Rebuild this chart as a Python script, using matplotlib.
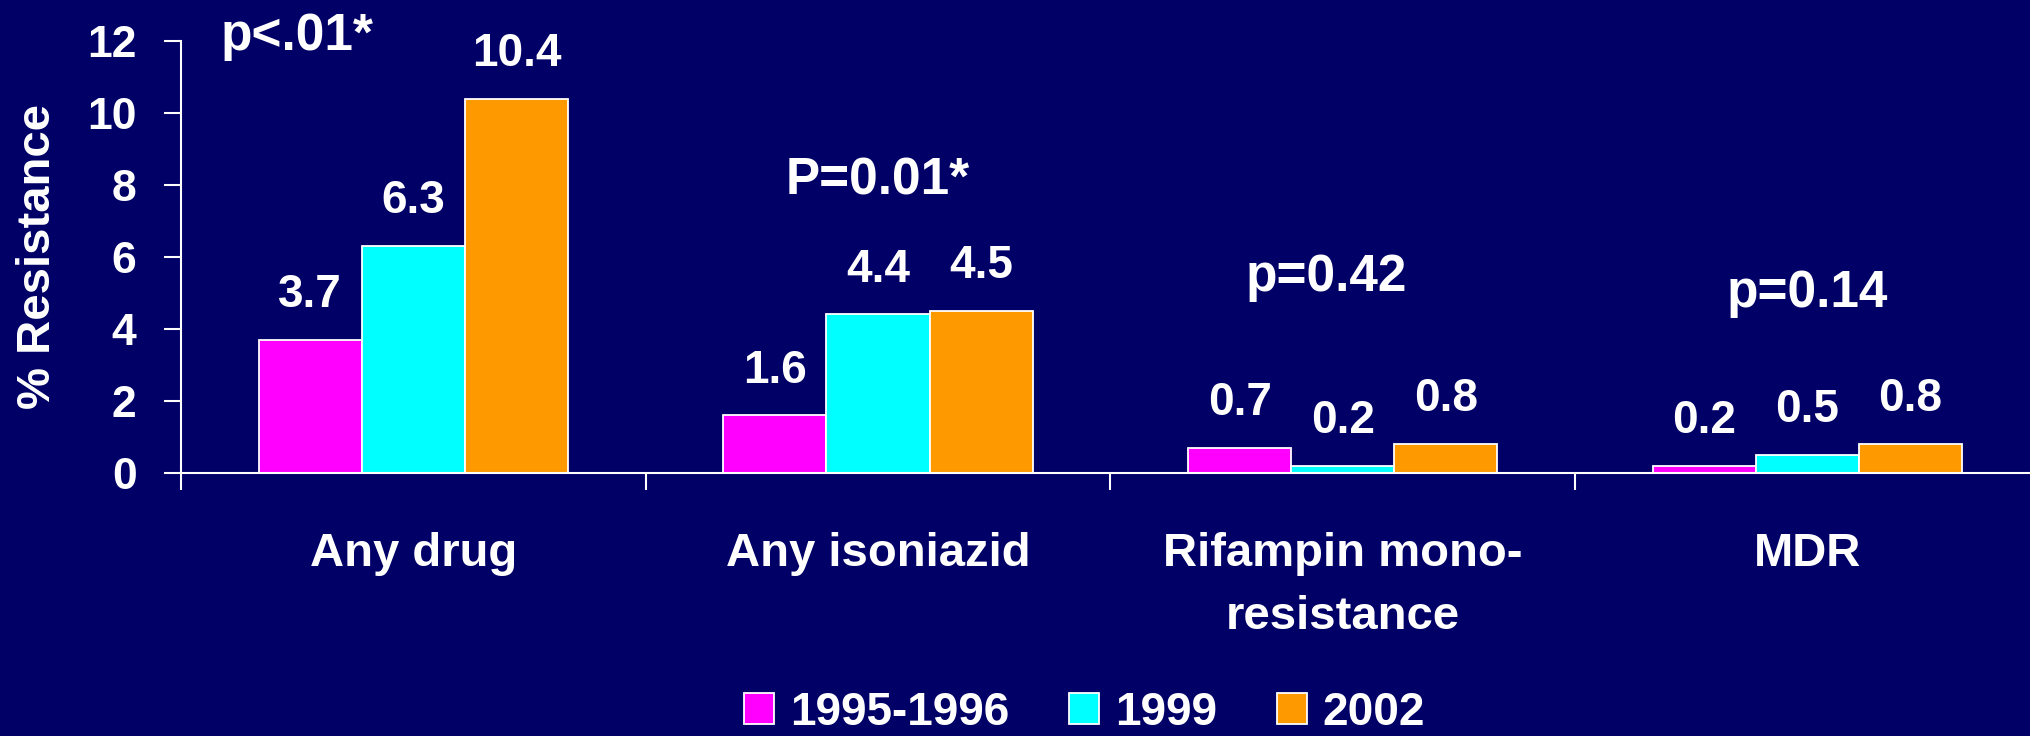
import matplotlib
matplotlib.use('Agg')
import matplotlib.pyplot as plt
import numpy as np

categories = ['Any drug', 'Any isoniazid', 'Rifampin mono-\nresistance', 'MDR']
series_names = ['1995-1996', '1999', '2002']
values_1995 = [3.7, 1.6, 0.7, 0.2]
values_1999 = [6.3, 4.4, 0.2, 0.5]
values_2002 = [10.4, 4.5, 0.8, 0.8]
p_labels = ['p<.01*', 'P=0.01*', 'p=0.42', 'p=0.14']
p_label_x = [-0.25, 1.0, 1.965, 3.0]
p_label_y = [11.75, 7.72, 5.06, 4.61]
y_ticks = [0, 2, 4, 6, 8, 10, 12]

bg = '#000066'
colors = ['#FF00FF', '#00FFFF', '#FF9900']

plt.rcParams['font.family'] = ['Liberation Sans', 'DejaVu Sans']
plt.rcParams['font.weight'] = 'bold'

fig = plt.figure(figsize=(20.3, 7.36), dpi=100, facecolor=bg)
ax = fig.add_axes([181 / 2030, (736 - 472.7) / 736, 1849 / 2030, (472.7 - 41) / 736])
ax.set_facecolor(bg)

x = np.arange(len(categories))
width = 0.222
series = [values_1995, values_1999, values_2002]
bars = []
for i, vals in enumerate(series):
    b = ax.bar(x + (i - 1) * width, vals, width, color=colors[i], edgecolor='white',
               linewidth=1.3, label=series_names[i])
    bars.append(b)
    for xi, v in zip(x + (i - 1) * width, vals):
        ax.annotate(f'{v}', (xi, v), xytext=(0, 23.5), textcoords='offset points',
                    ha='center', va='baseline', color='white', fontsize=33, fontweight='bold')

for lbl, px, py in zip(p_labels, p_label_x, p_label_y):
    ax.text(px, py, lbl, ha='center', va='baseline', color='white', fontsize=37, fontweight='bold')

ax.set_xlim(-0.5, 3.479)
ax.set_ylim(0, 12)
ax.set_yticks(y_ticks)
ax.set_xticks(x)
ax.set_xticklabels(categories, linespacing=1.55)
ax.set_xticks([-0.5, 0.5, 1.5, 2.5], minor=True)

for side in ['top', 'right']:
    ax.spines[side].set_visible(False)
for side in ['left', 'bottom']:
    ax.spines[side].set_color('white')
    ax.spines[side].set_linewidth(1.5)

ax.tick_params(axis='y', colors='white', labelsize=32, length=12, width=1.5, pad=20)
ax.tick_params(axis='x', which='major', colors='white', labelsize=34, length=0, pad=43)
ax.tick_params(axis='x', which='minor', colors='white', length=12, width=1.5, direction='out')

ax.set_ylabel('% Resistance', color='white', fontsize=34, fontweight='bold')
ax.yaxis.set_label_coords(-0.0655, 0.5)

leg = fig.legend(handles=bars, labels=series_names, loc='center', ncol=3,
                 bbox_to_anchor=(1084.5 / 2030, 23 / 736), frameon=False, fontsize=33,
                 handlelength=0.66, handleheight=0.66, handletextpad=0.34, columnspacing=1.31,
                 borderaxespad=0, borderpad=0)
for t in leg.get_texts():
    t.set_color('white')

fig.savefig('out.png', dpi=100, facecolor=bg)
